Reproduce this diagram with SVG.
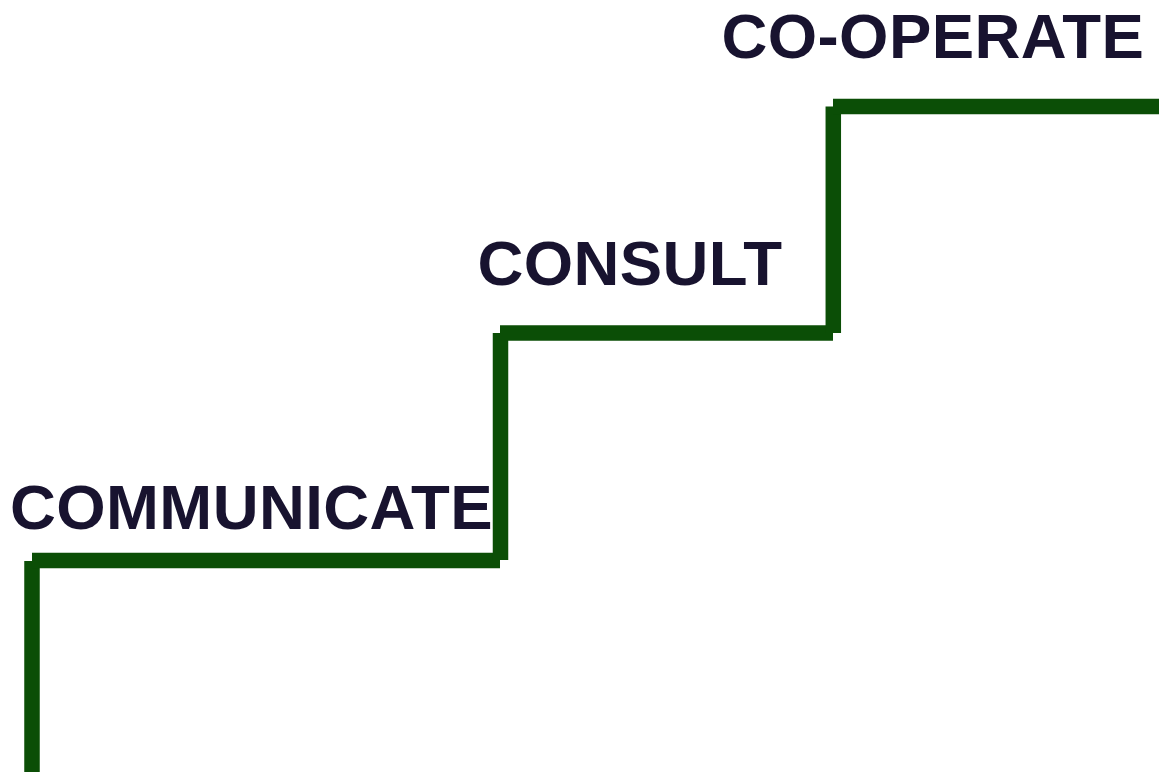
<svg xmlns="http://www.w3.org/2000/svg" width="1159" height="772" viewBox="0 0 1159 772">
<style>
.lbl{font-family:"Liberation Sans",Arial,sans-serif;font-weight:bold;font-size:63.5px;letter-spacing:0.4px;fill:#18132f}
.step{stroke:#0b4e06;stroke-width:15.5;fill:none;stroke-linecap:butt}
</style>
<rect width="1159" height="772" fill="#ffffff"/>
<g id="connectors">
<line class="step" x1="32" y1="772" x2="32" y2="561"/>
<line class="step" x1="32" y1="560.5" x2="500" y2="560.5"/>
<line class="step" x1="500.5" y1="560" x2="500.5" y2="333"/>
<line class="step" x1="500" y1="333" x2="833" y2="333"/>
<line class="step" x1="833.3" y1="333" x2="833.3" y2="106.5"/>
<line class="step" x1="833" y1="106.5" x2="1159" y2="106.5"/>
</g>
<g id="communicate"><text class="lbl" x="10" y="529">COMMUNICATE</text></g>
<g id="consult"><text class="lbl" x="477.5" y="284.5">CONSULT</text></g>
<g id="cooperate"><text class="lbl" x="721.5" y="58">CO-OPERATE</text></g>
</svg>
